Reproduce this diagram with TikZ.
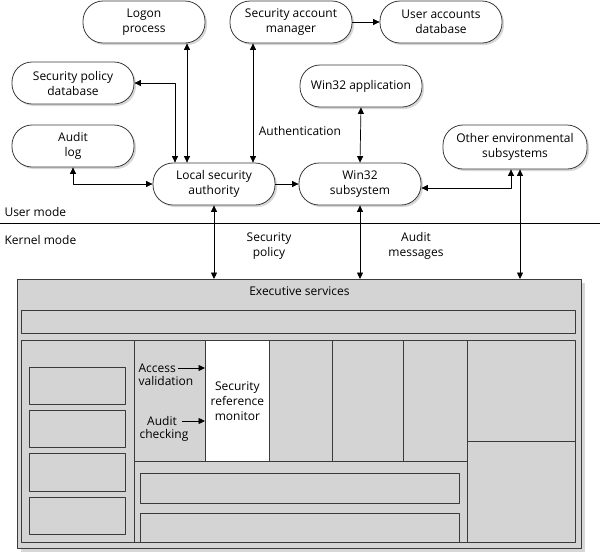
\documentclass[tikz,border=0pt]{standalone}
\usepackage{fontspec}
\setmainfont{Open Sans}
\usetikzlibrary{arrows.meta,positioning,shadows}
\definecolor{panelgray}{HTML}{D4D4D4}
\definecolor{edgegray}{HTML}{3A3A3A}
\definecolor{shadowgray}{HTML}{B0B0B0}

\begin{document}
\begin{tikzpicture}[x=1pt, y=-1pt, line join=round,
  font=\fontsize{12}{15}\selectfont,
  pill/.style={draw=edgegray, line width=0.8pt, fill=white, rounded corners=20pt,
    minimum width=122pt, minimum height=42pt, align=center, inner sep=2pt,
    drop shadow={shadow xshift=2pt, shadow yshift=-2pt, fill=shadowgray}},
  link/.style={line width=0.7pt, -{Triangle[length=6.5pt, width=6pt]}},
  dbl/.style={line width=0.7pt, {Triangle[length=6.5pt, width=6pt]}-{Triangle[length=6.5pt, width=6pt]}},
  panel/.style={draw=edgegray, line width=0.8pt, fill=panelgray}]

  \useasboundingbox (0,0) rectangle (600,555);

  % ============ User mode: processes and databases ============
  \node[pill] (logon) at (144,22) {Logon\\process};
  \node[pill] (sam) at (291,22) {Security account\\manager};
  \node[pill] (uadb) at (441,22) {User accounts\\database};
  \node[pill] (spdb) at (73,83) {Security policy\\database};
  \node[pill] (alog) at (73,146) {Audit\\log};
  \node[pill] (w32app) at (361,86) {Win32 application};
  \node[pill] (lsa) at (214,184) {Local security\\authority};
  \node[pill] (w32sub) at (360,184) {Win32\\subsystem};
  \node[pill, minimum width=144pt, minimum height=44pt] (oenv) at (515,147) {Other environmental\\subsystems};

  \node (authlbl) at (300,131) {Authentication};

  % ============ Divider ============
  \draw[line width=1.6pt] (0,223.5) -- (600,223.5);
  \node[anchor=west] (umode) at (1,212) {User mode};
  \node[anchor=west] (kmode) at (1,240) {Kernel mode};

  \node[align=center] (secpol) at (269,246) {Security\\policy};
  \node[align=center] (auditmsg) at (416,246) {Audit\\messages};

  % ============ Kernel mode: executive ============
  \node[panel, minimum width=564pt, minimum height=269pt, anchor=north west,
    drop shadow={shadow xshift=4pt, shadow yshift=-4pt, fill=shadowgray}] (exec) at (17,279) {};
  \node[below=4pt of exec.north] (exectitle) {Executive services};

  \draw[panel] (21,310) rectangle (575,333);
  \draw[panel] (21,340) rectangle (575,542);

  % left column with its four boxes
  \draw[edgegray, line width=0.8pt] (134,340) -- (134,542);
  \draw[panel] (29,367) rectangle (125,404);
  \draw[panel] (29,410) rectangle (125,447);
  \draw[panel] (29,453) rectangle (125,491);
  \draw[panel] (29,497) rectangle (125,534);

  % middle: row of components, two bars below
  \draw[edgegray, line width=0.8pt] (134,461) -- (467,461);
  \draw[edgegray, line width=0.8pt] (332,340) -- (332,461);
  \draw[edgegray, line width=0.8pt] (403,340) -- (403,461);
  \draw[panel] (140,473) rectangle (459,503);
  \draw[panel] (140,513) rectangle (459,542);

  % right column, split in two
  \draw[edgegray, line width=0.8pt] (467,340) -- (467,542);
  \draw[edgegray, line width=0.8pt] (467,441) -- (575,441);

  \node[draw=edgegray, line width=0.8pt, fill=white, minimum width=64pt, minimum height=121pt,
    anchor=north west, align=center, inner sep=0pt] (srm) at (205,340) {Security\\reference\\monitor};
  \draw[edgegray, line width=0.8pt] (269,340) -- (269,461);

  \node[anchor=east, inner sep=1pt] (accword) at (177,368) {Access};
  \node[anchor=north, inner sep=1pt] (valword) at (166,375) {validation};
  \node[anchor=east, inner sep=1pt] (audword) at (178,421) {Audit};
  \node[anchor=north, inner sep=1pt] (chkword) at (164,428) {checking};

  % ============ Connectors ============
  \coordinate (xlogon) at (187,0);
  \coordinate (xspd) at (175,0);
  \coordinate (xsam) at (253,0);
  \coordinate (xoenv) at (511,0);
  \coordinate (xkern) at (520,0);

  \draw[link] (sam) -- (uadb);
  \draw[dbl] (xlogon |- logon.south) -- (xlogon |- lsa.north);
  \draw[dbl] (spdb.east) -| (xspd |- lsa.north);
  \draw[dbl] (xsam |- sam.south) -- (xsam |- lsa.north);
  \draw[dbl] (alog.south) |- (lsa.west);
  \draw[link] (lsa.east) -- (w32sub.west);
  \draw[dbl] (w32app.south) -- (w32sub.north);
  \draw[dbl] ([yshift=-4pt]w32sub.east) -| (xoenv |- oenv.south);

  \draw[dbl] (lsa.south) -- (lsa.south |- exec.north);
  \draw[dbl] (w32sub.south) -- (w32sub.south |- exec.north);
  \draw[dbl] (xkern |- oenv.south) -- (xkern |- exec.north);

  \draw[link] ([xshift=1pt]accword.east) -- (accword.east -| srm.west);
  \draw[link] ([xshift=4pt]audword.east) -- (audword.east -| srm.west);

\end{tikzpicture}
\end{document}
